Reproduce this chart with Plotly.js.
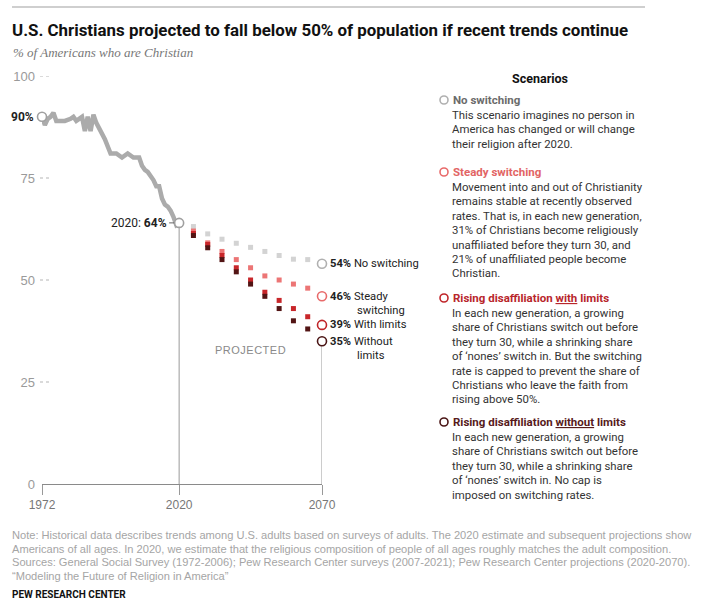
<!DOCTYPE html>
<html>
<head>
<meta charset="utf-8">
<script src="https://cdn.plot.ly/plotly-3.0.1.min.js"></script>
<style>html,body{margin:0;padding:0;background:#fff;}#chart{width:701px;height:610px;}</style>
</head>
<body>
<div id="chart"></div>
<script>
// ---- Data ----
const histYears = [1972,1973,1974,1975,1976,1977,1978,1980,1982,1983,1984,1985,1986,1987,1988,1989,1990,1991,1993,1994,1996,1998,2000,2002,2004,2006,2007,2008,2009,2010,2011,2012,2013,2014,2015,2016,2017,2018,2019,2020];
const histValues = [90,88,89.5,90,91,89,89,89,89.5,90,89,89.5,90,86.5,90,86.5,90.5,88.5,86,84.5,81,81,80,81,80,80,78,77,76.5,75.5,74.5,73,73,70,68.5,68,67,65.5,63.5,64];

const projYears = [2025,2030,2035,2040,2045,2050,2055,2060,2065,2070];
const noSwitching   = [63.1,61.3,60,59,58,57,56,55.1,55,54];
const steadySwitch  = [62,59.1,57,55,53,51,50,49,48,46];
const withLimits    = [61.4,58.7,56,53,50,47,45,43,41,39];
const withoutLimits = [60.9,57.9,55,52,49,46,43,40,38,35];

const scenarioNames = ['No switching','Steady switching','With limits','Without limits'];
const scenarioSeries = [noSwitching, steadySwitch, withLimits, withoutLimits];
const squareColors = ['#d3d3d3','#ec7575','#c8262a','#521414'];
const circleColors = ['#b0b0b0','#e86a6a','#c0262a','#4a1515'];
const headColors = ['#6b6b6b','#e26464','#b8262b','#571b1b'];

const yTicks = [0,25,50,75,100];
const xTicks = [1972,2020,2070];

const noteLines = [
 'Note: Historical data describes trends among U.S. adults based on surveys of adults. The 2020 estimate and subsequent projections show',
 'Americans of all ages. In 2020, we estimate that the religious composition of people of all ages roughly matches the adult composition.',
 'Sources: General Social Survey (1972-2006); Pew Research Center surveys (2007-2021); Pew Research Center projections (2020-2070).',
 '\u201cModeling the Future of Religion in America\u201d'
];

const scenarioHeads = [
 'No switching',
 'Steady switching',
 'Rising disaffiliation <u>with</u> limits',
 'Rising disaffiliation <u>without</u> limits'
];
const scenarioBodies = [
 ['This scenario imagines no person in','America has changed or will change','their religion after 2020.'],
 ['Movement into and out of Christianity','remains stable at recently observed','rates. That is, in each new generation,','31% of Christians become religiously','unaffiliated before they turn 30, and','21% of unaffiliated people become','Christian.'],
 ['In each new generation, a growing','share of Christians switch out before','they turn 30, while a shrinking share','of \u2018nones\u2019 switch in. But the switching','rate is capped to prevent the share of','Christians who leave the faith from','rising above 50%.'],
 ['In each new generation, a growing','share of Christians switch out before','they turn 30, while a shrinking share','of \u2018nones\u2019 switch in. No cap is','imposed on switching rates.']
];

// ---- Layout helpers ----
const W = 701, H = 610;
const L = 42, R = 322, T = 76, B = 484;
const px = X => (X - L) / (R - L);
const py = Y => (B - Y) / (B - T);
const ROB = 'Roboto, Liberation Sans, Arial, sans-serif';
const SANS = 'Liberation Sans, Arial, sans-serif';

const traces = [];
// historical line
traces.push({x: histYears, y: histValues, mode: 'lines', line: {color: '#ababab', width: 4.5}, cliponaxis: false, hoverinfo: 'skip'});
// vertical reference lines
const last = histValues[histValues.length-1];
traces.push({x: [2020,2020], y: [0,last], mode: 'lines', line: {color: '#999', width: 1}, hoverinfo: 'skip'});
traces.push({x: [2070,2070], y: [0,withoutLimits[withoutLimits.length-1]], mode: 'lines', line: {color: '#999', width: 1}, hoverinfo: 'skip'});
// projection squares + endpoint circles
scenarioSeries.forEach((s, i) => {
  traces.push({x: projYears.slice(0,-1), y: s.slice(0,-1), mode: 'markers', marker: {symbol: 'square', size: 5, color: squareColors[i]}, cliponaxis: false, hoverinfo: 'skip'});
});
scenarioSeries.forEach((s, i) => {
  traces.push({x: projYears.slice(-1), y: s.slice(-1), mode: 'markers', marker: {symbol: 'circle', size: 9, color: '#fff', line: {color: circleColors[i], width: 1.6}}, cliponaxis: false, hoverinfo: 'skip'});
});
// start/2020 circles
traces.push({x: [histYears[0], histYears[histYears.length-1]], y: [histValues[0], last], mode: 'markers', marker: {symbol: 'circle', size: 9, color: '#fff', line: {color: '#a0a0a0', width: 1.6}}, cliponaxis: false, hoverinfo: 'skip'});

const shapes = [];
// top rule
shapes.push({type: 'line', xref: 'paper', yref: 'paper', x0: px(12), x1: px(645), y0: py(7), y1: py(7), line: {color: '#cfcfcf', width: 2}});
// short dotted gridlines
yTicks.filter(v => v > 0).forEach(v => {
  shapes.push({type: 'line', xref: 'paper', yref: 'y', x0: px(40), x1: px(52), y0: v, y1: v, line: {color: '#b5b5b5', width: 1, dash: 'dot'}});
});
// scenario legend circles
const headY = [100, 172, 298, 422];
headY.forEach((Y, i) => {
  shapes.push({type: 'circle', xref: 'paper', yref: 'paper', xsizemode: 'pixel', ysizemode: 'pixel', xanchor: px(444), yanchor: py(Y), x0: -4, x1: 4, y0: -4, y1: 4, line: {color: circleColors[i], width: 1.6}, fillcolor: '#fff'});
});

const ann = [];
// subtitle
ann.push({xref: 'paper', yref: 'paper', x: px(11), y: py(53), xanchor: 'left', yanchor: 'middle', showarrow: false, text: '<i>% of Americans who are Christian</i>', font: {family: 'Liberation Serif, serif', size: 13, color: '#777'}});
// start label
ann.push({xref: 'x', yref: 'y', x: histYears[0], y: histValues[0], xanchor: 'right', xshift: -6, showarrow: false, text: '<b>' + histValues[0] + '%</b>', font: {family: ROB, size: 12, color: '#222'}});
// 2020 label
ann.push({xref: 'x', yref: 'y', x: 2020, y: last, ax: -10, ay: 0, xanchor: 'right', showarrow: true, arrowhead: 0, arrowwidth: 1, arrowcolor: '#666', standoff: 5, text: '2020: <b>' + last + '%</b>', font: {family: ROB, size: 12, color: '#222'}});
// endpoint labels
const endLabels = [
  ['No switching', ''],
  ['Steady', 'switching'],
  ['With limits', ''],
  ['Without', 'limits']
];
scenarioSeries.forEach((s, i) => {
  const v = s[s.length-1];
  ann.push({xref: 'x', yref: 'y', x: 2070, y: v, xanchor: 'left', xshift: 6, showarrow: false, text: '<b>' + v + '%</b> ' + endLabels[i][0], font: {family: ROB, size: 11.2, color: '#222'}});
  if (endLabels[i][1]) {
    ann.push({xref: 'x', yref: 'y', x: 2070, y: v, xanchor: 'left', xshift: 33, yshift: -14, showarrow: false, text: endLabels[i][1], font: {family: ROB, size: 11.2, color: '#222'}});
  }
});
// PROJECTED label
ann.push({xref: 'x', yref: 'paper', x: 2045, y: py(350), xanchor: 'center', yanchor: 'middle', showarrow: false, text: '<span style="letter-spacing:0.5px">PROJECTED</span>', font: {family: SANS, size: 11, color: '#8a8a8a'}});
// Scenario panel
ann.push({xref: 'paper', yref: 'paper', x: px(540), y: py(78), xanchor: 'center', yanchor: 'middle', showarrow: false, text: '<b>Scenarios</b>', font: {family: ROB, size: 12.5, color: '#111'}});
headY.forEach((Y, i) => {
  ann.push({xref: 'paper', yref: 'paper', x: px(451), y: py(Y), xanchor: 'left', yanchor: 'middle', showarrow: false, text: '<b>' + scenarioHeads[i] + '</b>', font: {family: ROB, size: 11.5, color: headColors[i]}});
  scenarioBodies[i].forEach((line, j) => {
    ann.push({xref: 'paper', yref: 'paper', x: px(450), y: py(Y + 15 + j * 14.4), xanchor: 'left', yanchor: 'middle', showarrow: false, text: line, font: {family: ROB, size: 11.4, color: '#333'}});
  });
});
// notes
noteLines.forEach((line, j) => {
  ann.push({xref: 'paper', yref: 'paper', x: px(10), y: py(535 + j * 13.5), xanchor: 'left', yanchor: 'middle', showarrow: false, text: line, font: {family: SANS, size: 11.1, color: '#a5a5a5'}});
});
ann.push({xref: 'paper', yref: 'paper', x: px(10), y: py(594), xanchor: 'left', yanchor: 'middle', showarrow: false, text: '<b>PEW RESEARCH CENTER</b>', font: {family: ROB, size: 10, color: '#111'}});

const layout = {
  width: W, height: H,
  margin: {l: L, r: W - R, t: T, b: H - B, pad: 0},
  paper_bgcolor: '#fff', plot_bgcolor: '#fff',
  showlegend: false,
  title: {text: '<b>U.S. Christians projected to fall below 50% of population if recent trends continue</b>', x: 12 / W, xanchor: 'left', xref: 'container', y: 1 - 30 / H, yanchor: 'middle', yref: 'container', font: {family: ROB, size: 16.9, color: '#111'}},
  xaxis: {range: [1972, 2070], tickvals: xTicks, ticktext: xTicks.map(String), ticks: 'outside', ticklen: 10, tickcolor: '#999', tickwidth: 1, showgrid: false, zeroline: false, showline: true, linecolor: '#8a8a8a', linewidth: 1, tickfont: {family: SANS, size: 12, color: '#777'}, fixedrange: true},
  yaxis: {range: [0, 100], tickvals: yTicks, ticktext: yTicks.map(String), ticks: '', showgrid: false, zeroline: false, showline: false, ticklabelstandoff: 6, tickfont: {family: SANS, size: 13, color: '#9a9a9a'}, fixedrange: true},
  shapes: shapes,
  annotations: ann
};

Plotly.newPlot('chart', traces, layout, {staticPlot: true, displayModeBar: false});
</script>
</body>
</html>
